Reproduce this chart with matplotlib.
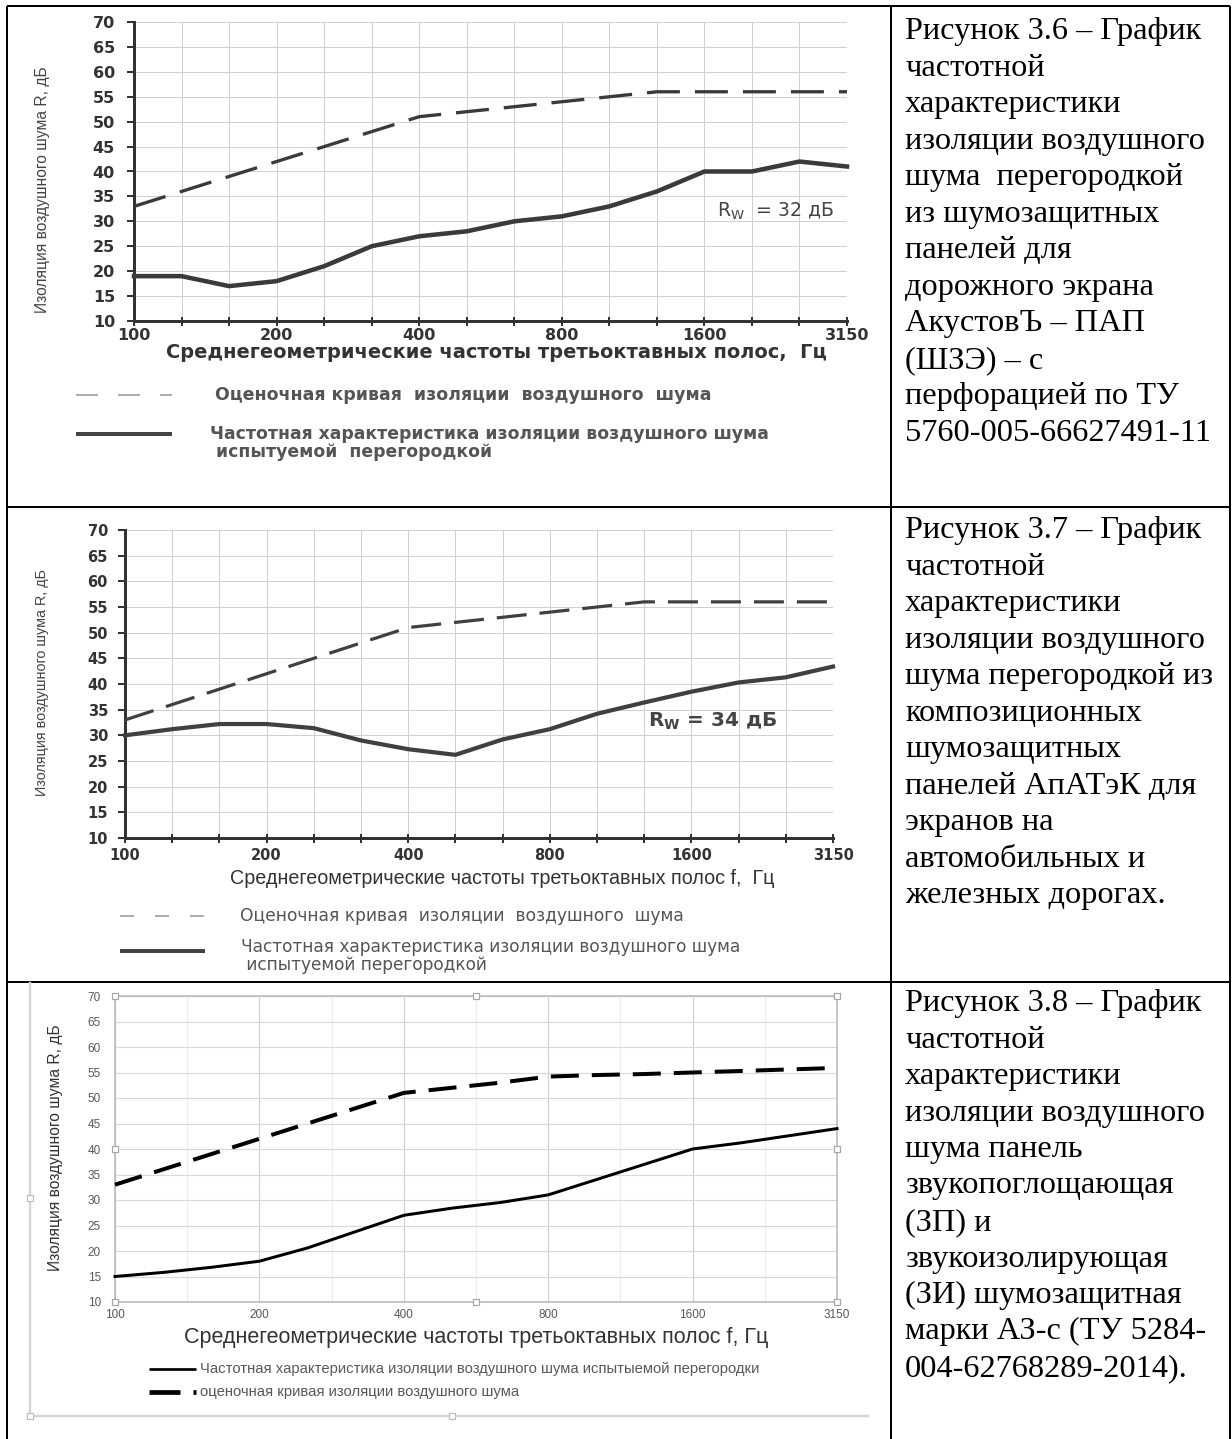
import numpy as np
import matplotlib
matplotlib.use("Agg")
import matplotlib.pyplot as plt
from matplotlib import font_manager as fm

plt.rcParams["lines.scale_dashes"] = False
plt.rcParams["axes.unicode_minus"] = False

W, H, DPI = 1232, 1439, 100
PT = 72.0 / DPI  # points per pixel

# ---------------------------------------------------------------- data
bands = [100, 125, 160, 200, 250, 315, 400, 500, 630, 800,
         1000, 1250, 1600, 2000, 2500, 3150]
band_labels = ["100", "", "", "200", "", "", "400", "", "", "800",
               "", "", "1600", "", "", "3150"]
db_ticks = [10, 15, 20, 25, 30, 35, 40, 45, 50, 55, 60, 65, 70]

# Рисунок 3.6
ref_36 = [33, 36, 39, 42, 45, 48, 51, 52, 53, 54, 55, 56, 56, 56, 56, 56]
meas_36 = [19, 19, 17, 18, 21, 25, 27, 28, 30, 31, 33, 36, 40, 40, 42, 41]
rw_36 = 32

# Рисунок 3.7
ref_37 = [33, 36, 39, 42, 45, 48, 51, 52, 53, 54, 55, 56, 56, 56, 56, 56]
meas_37 = [30, 31.2, 32.2, 32.2, 31.4, 29, 27.3, 26.2, 29.2, 31.2,
           34.2, 36.4, 38.5, 40.3, 41.3, 43.4]
rw_37 = 34

# Рисунок 3.8
meas_38 = [15, 15.8, 16.8, 18, 20.6, 23.8, 27, 28.4, 29.5, 31,
           34, 37, 40, 41.2, 42.6, 44]
ref_38 = [33, 36, 39, 42, 45, 48, 51, 52, 53, 54.2,
          54.5, 54.7, 55, 55.3, 55.6, 55.9]

y_title = "Изоляция воздушного шума R, дБ"
x_title_36 = "Среднегеометрические частоты третьоктавных полос,  Гц"
x_title_37 = "Среднегеометрические частоты третьоктавных полос f,  Гц"
x_title_38 = "Среднегеометрические частоты третьоктавных полос f, Гц"
leg_ref = "Оценочная кривая  изоляции  воздушного  шума"
leg_meas_36 = "Частотная характеристика изоляции воздушного шума\n испытуемой  перегородкой"
leg_meas_37 = "Частотная характеристика изоляции воздушного шума\n испытуемой перегородкой"
leg_meas_38 = "Частотная характеристика изоляции воздушного шума испытыемой перегородки"
leg_ref_38 = "оценочная кривая изоляции воздушного шума"

caption_36 = ["Рисунок 3.6 – График", "частотной", "характеристики",
              "изоляции воздушного", "шума  перегородкой", "из шумозащитных",
              "панелей для", "дорожного экрана", "АкустовЪ – ПАП",
              "(ШЗЭ) – с", "перфорацией по ТУ", "5760-005-66627491-11"]
caption_37 = ["Рисунок 3.7 – График", "частотной", "характеристики",
              "изоляции воздушного", "шума перегородкой из", "композиционных",
              "шумозащитных", "панелей АпАТэК для", "экранов на",
              "автомобильных и", "железных дорогах."]
caption_38 = ["Рисунок 3.8 – График", "частотной", "характеристики",
              "изоляции воздушного", "шума панель", "звукопоглощающая",
              "(ЗП) и", "звукоизолирующая", "(ЗИ) шумозащитная",
              "марки АЗ-с (ТУ 5284-", "004-62768289-2014)."]

# ---------------------------------------------------------------- fonts
available = {f.name for f in fm.fontManager.ttflist}


def pick(*names):
    for n in names:
        if n in available:
            return n
    return "DejaVu Sans"


WIDE = pick("DejaVu Sans")
SANS = pick("Liberation Sans", "DejaVu Sans")
NARROW = pick("Liberation Sans Narrow", "Liberation Sans", "DejaVu Sans")
SERIF = pick("Liberation Serif", "DejaVu Serif")

# ---------------------------------------------------------------- canvas
fig = plt.figure(figsize=(W / DPI, H / DPI), dpi=DPI)
fig.patch.set_facecolor("white")
bg = fig.add_axes([0, 0, 1, 1], zorder=0)
bg.set_xlim(0, W)
bg.set_ylim(H, 0)
bg.axis("off")
renderer = fig.canvas.get_renderer()


def rect(x0, y0, x1, y1):
    return [x0 / W, 1 - y1 / H, (x1 - x0) / W, (y1 - y0) / H]


def fit(t, px, vertical=False):
    bb = t.get_window_extent(renderer)
    size = bb.height if vertical else bb.width
    t.set_fontsize(t.get_fontsize() * px / size)


# ---------------------------------------------------------------- table
TX0, TXC, TX1 = 7, 891, 1230
for yy in (6, 507, 982):
    bg.plot([TX0, TX1], [yy, yy], color="black", lw=2 * PT, solid_capstyle="butt")
for xx in (TX0, TXC, TX1):
    bg.plot([xx, xx], [6, H], color="black", lw=2 * PT, solid_capstyle="butt")

# captions
cap_probe = bg.text(905, 39, caption_36[0], family=SERIF, fontsize=20)
fit(cap_probe, 297)
cap_size = cap_probe.get_fontsize()
cap_probe.remove()
for lines, y0 in ((caption_36, 39.3), (caption_37, 538.3), (caption_38, 1011)):
    for i, s in enumerate(lines):
        bg.text(905, y0 + i * 36.5, s, family=SERIF, fontsize=cap_size,
                va="baseline", ha="left", color="black")


# ---------------------------------------------------------------- scanned-style charts
def scanned_chart(box, meas, ref, rw, cfg):
    x0, y0, x1, y1 = box
    ax = fig.add_axes(rect(*box), zorder=2)
    ax.set_facecolor("white")
    x = np.arange(len(bands))
    ax.plot(x, ref, color=cfg["line"], lw=cfg["ref_lw"], dashes=cfg["dash"],
            clip_on=False, zorder=3, dash_capstyle="butt")
    ax.plot(x, meas, color=cfg["line"], lw=cfg["meas_lw"], clip_on=False,
            zorder=3, solid_joinstyle="round")
    ax.set_xlim(0, len(bands) - 1)
    ax.set_ylim(10, 70)
    ax.set_xticks(x, band_labels)
    ax.set_yticks(db_ticks)
    ax.grid(True, color="#d0d0d0", lw=1.0 * PT)
    ax.set_axisbelow(True)
    for s in ("top", "right"):
        ax.spines[s].set_visible(False)
    for s in ("left", "bottom"):
        ax.spines[s].set_color("#333333")
        ax.spines[s].set_linewidth(3 * PT)
    ax.tick_params(axis="x", direction="inout", length=9 * PT, width=2 * PT,
                   color="#333333", pad=cfg["xpad"], labelsize=cfg["tick_fs"],
                   labelcolor="#333333")
    ax.tick_params(axis="y", direction="out", length=7 * PT, width=2 * PT,
                   color="#333333", pad=cfg["ypad"], labelsize=cfg["tick_fs"],
                   labelcolor="#333333")
    for lab in ax.get_xticklabels() + ax.get_yticklabels():
        lab.set_fontweight("bold")
        lab.set_family(WIDE)

    # axis titles
    ax.set_ylabel(y_title, family=NARROW, color="#444444", fontsize=10)
    ax.yaxis.set_label_coords((cfg["ylab"][0] - x0) / (x1 - x0),
                              (y1 - cfg["ylab"][1]) / (y1 - y0))
    ax.yaxis.label.set_va("center")
    fit(ax.yaxis.label, cfg["ylab_len"], vertical=True)

    ax.set_xlabel(cfg["xtitle"], family=cfg["xfont"], fontweight=cfg["xweight"],
                  color="#333333", fontsize=10)
    ax.xaxis.set_label_coords((cfg["xlab"][0] - x0) / (x1 - x0),
                              (y1 - cfg["xlab"][1]) / (y1 - y0))
    ax.xaxis.label.set_va("center")
    fit(ax.xaxis.label, cfg["xlab_len"])

    # weighted index label
    rtxt = ax.text(cfg["rw_pos"][0], cfg["rw_pos"][1],
                   r"R$_\mathregular{W}$" + cfg["rw_sep"] + "= %d дБ" % rw,
                   family=WIDE, fontweight=cfg["rw_weight"], color="#444444",
                   ha="left", va="center", fontsize=10)
    fit(rtxt, cfg["rw_len"])

    # legend block
    lx0, lx1 = cfg["leg_sample"]
    (ry, my) = cfg["leg_rows"]
    bg.plot([lx0, lx1], [ry, ry], color="#9a9a9a", lw=1.6 * PT,
            dashes=cfg["leg_dash"], dash_capstyle="butt")
    bg.plot([lx0, lx1], [my, my], color="#444444", lw=4 * PT,
            solid_capstyle="butt")
    t1 = bg.text(cfg["leg_text_x"][0], ry, leg_ref, family=WIDE,
                 fontweight=cfg["leg_weight"], color="#555555", va="center",
                 ha="left", fontsize=10)
    fit(t1, cfg["leg_len"][0])
    t2 = bg.text(cfg["leg_text_x"][1], cfg["leg_meas_y"], cfg["leg_meas"],
                 family=WIDE, fontweight=cfg["leg_weight"], color="#555555",
                 va="top", ha="left", fontsize=10, linespacing=1.0)
    fit(t2, cfg["leg_len"][1])
    return ax


cfg36 = dict(line="#3a3a3a", ref_lw=3.3 * PT, meas_lw=4.5 * PT,
             dash=(33 * PT, 15 * PT), xpad=3 * PT, ypad=12 * PT, tick_fs=11.5,
             ylab=(43, 190), ylab_len=247, xlab=(496, 352), xlab_len=660,
             xtitle=x_title_36, xfont=WIDE, xweight="bold",
             rw_pos=(12.27, 32), rw_sep="  ", rw_weight="normal", rw_len=118,
             leg_sample=(76, 172), leg_rows=(395, 434),
             leg_dash=(22 * PT, 20 * PT), leg_text_x=(215, 210), leg_meas_y=425,
             leg_weight="bold", leg_len=(495, 558), leg_meas=leg_meas_36)
scanned_chart((134, 22, 847, 321), meas_36, ref_36, rw_36, cfg36)

cfg37 = dict(line="#404040", ref_lw=3.2 * PT, meas_lw=4.2 * PT,
             dash=(30 * PT, 13 * PT), xpad=5 * PT, ypad=10 * PT, tick_fs=10.5,
             ylab=(42, 683), ylab_len=227, xlab=(502, 878), xlab_len=546,
             xtitle=x_title_37, xfont=SANS, xweight="normal",
             rw_pos=(11.08, 32.8), rw_sep=" ", rw_weight="bold", rw_len=130,
             leg_sample=(120, 205), leg_rows=(916, 951),
             leg_dash=(14 * PT, 21 * PT), leg_text_x=(240, 241), leg_meas_y=938,
             leg_weight="normal", leg_len=(445, 502), leg_meas=leg_meas_37)
scanned_chart((125, 530, 833, 838), meas_37, ref_37, rw_37, cfg37)

# ---------------------------------------------------------------- spreadsheet-style chart
CX0, CY0, CX1, CY1 = 115, 996, 837, 1302
ax3 = fig.add_axes(rect(CX0, CY0, CX1, CY1), zorder=2)
ax3.set_facecolor("white")
x = np.arange(len(bands))
ax3.plot(x, ref_38, color="black", lw=4 * PT, dashes=(28 * PT, 13 * PT),
         dash_capstyle="butt", clip_on=False, zorder=3)
ax3.plot(x, meas_38, color="black", lw=3 * PT, clip_on=False, zorder=3,
         solid_joinstyle="round")
ax3.set_xlim(0, len(bands) - 1)
ax3.set_ylim(10, 70)
major_idx = [i for i, s in enumerate(band_labels) if s]
ax3.set_xticks(major_idx, [band_labels[i] for i in major_idx])
ax3.set_xticks([i + 1.5 for i in major_idx[:-1]], minor=True)
ax3.set_yticks(db_ticks)
ax3.grid(True, which="major", axis="y", color="#d9d9d9", lw=1.2 * PT)
ax3.grid(True, which="major", axis="x", color="#cfcfcf", lw=1.2 * PT)
ax3.grid(True, which="minor", axis="x", color="#ececec", lw=1.2 * PT)
ax3.set_axisbelow(True)
for s in ax3.spines.values():
    s.set_color("#b5b5b5")
    s.set_linewidth(1.5 * PT)
ax3.tick_params(which="both", length=0)
ax3.tick_params(axis="x", pad=7 * PT, labelsize=8.5, labelcolor="#595959")
ax3.tick_params(axis="y", pad=14 * PT, labelsize=8.5, labelcolor="#595959")
for lab in ax3.get_xticklabels() + ax3.get_yticklabels():
    lab.set_family(SANS)

ax3.set_ylabel(y_title, family=NARROW, color="#333333", fontsize=12)
ax3.yaxis.set_label_coords((55 - CX0) / (CX1 - CX0), (CY1 - 1148) / (CY1 - CY0))
ax3.yaxis.label.set_va("center")
fit(ax3.yaxis.label, 247, vertical=True)
ax3.set_xlabel(x_title_38, family=NARROW, color="#333333", fontsize=12)
ax3.xaxis.set_label_coords((476 - CX0) / (CX1 - CX0), (CY1 - 1338) / (CY1 - CY0))
ax3.xaxis.label.set_va("center")
fit(ax3.xaxis.label, 587)

# selection handles of the plot area
hx = [0, 0, 0, 0.5, 0.5, 1, 1, 1]
hy = [0, 0.5, 1, 0, 1, 0, 0.5, 1]
ax3.plot(hx, hy, "s", ms=6 * PT, mfc="white", mec="#a6a6a6", mew=1.2 * PT,
         transform=ax3.transAxes, clip_on=False, zorder=5, ls="none")

# chart-area frame with handles
bg.plot([30, 30, 868], [983, 1416, 1416], color="#d6d6d6", lw=2.5 * PT)
bg.plot([30, 30, 452], [1198, 1416, 1416], "s", ms=6 * PT, mfc="white",
        mec="#bdbdbd", mew=1.2 * PT, ls="none")

# legend of the spreadsheet chart
bg.plot([149, 196], [1369, 1369], color="black", lw=2.7 * PT, solid_capstyle="butt")
bg.plot([149, 196], [1392, 1392], color="black", lw=4.7 * PT,
        dashes=(31 * PT, 13 * PT), dash_capstyle="butt")
l1 = bg.text(200, 1369, leg_meas_38, family=NARROW, color="#595959",
             va="center", ha="left", fontsize=8)
fit(l1, 562)
l2 = bg.text(200, 1392, leg_ref_38, family=NARROW, color="#595959",
             va="center", ha="left", fontsize=8)
l2.set_fontsize(l1.get_fontsize())

fig.savefig("out.png", dpi=DPI)
